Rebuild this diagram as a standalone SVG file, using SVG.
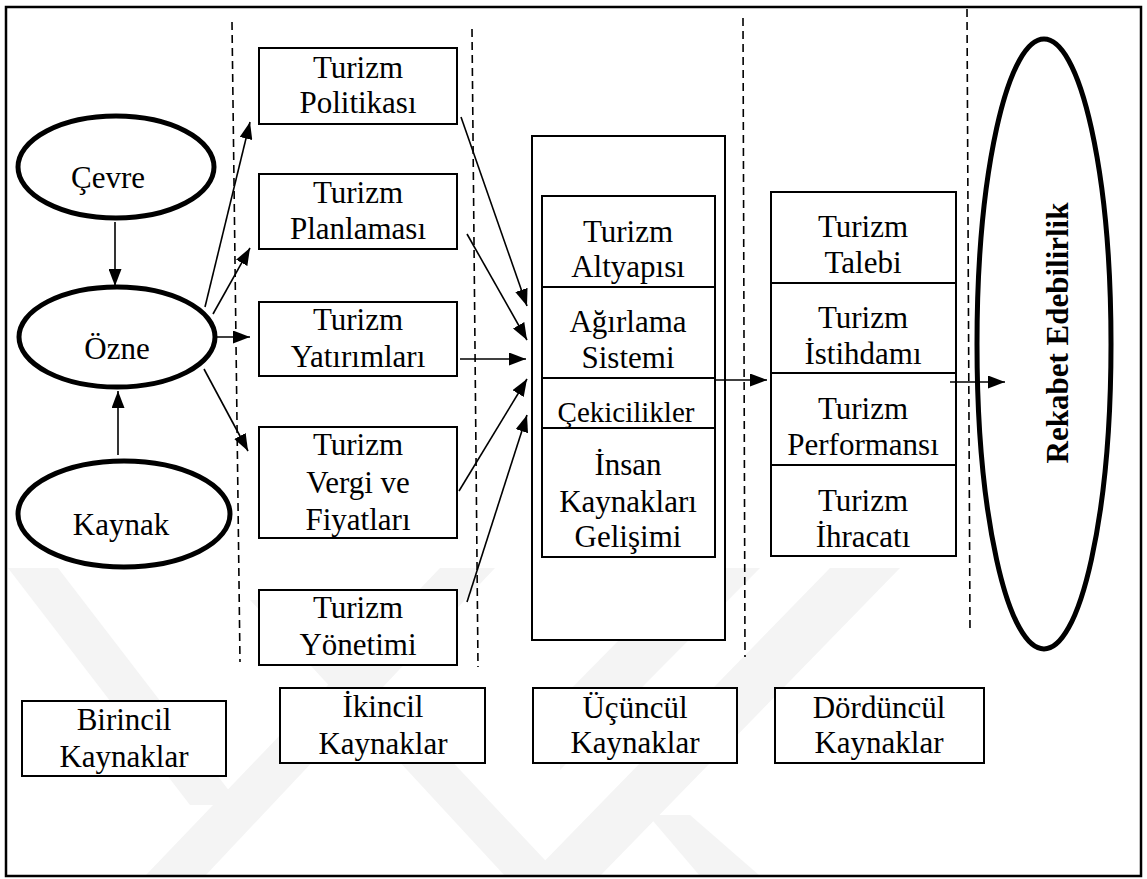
<svg xmlns="http://www.w3.org/2000/svg" width="1147" height="879" viewBox="0 0 1147 879">
  <style>
    text { font-family: 'Liberation Serif', 'DejaVu Serif', serif; }
    .lbl { font-size: 31px; fill: #000; text-anchor: middle; }
    .bold { font-weight: bold; }
    .box { fill: #fff; stroke: #000; stroke-width: 2; }
    .oval { fill: #fff; stroke: #000; stroke-width: 5; }
    .sep { stroke: #000; stroke-width: 1.6; stroke-dasharray: 8 5; fill: none; }
    .link { stroke: #000; stroke-width: 1.6; fill: none; marker-end: url(#head); }
    .wm { fill: #f4f4f4; }
  </style>
  <defs>
    <marker id="head" markerUnits="userSpaceOnUse" markerWidth="17" markerHeight="13" refX="17" refY="6.5" orient="auto">
      <path d="M0,0 L17,6.5 L0,13 z" fill="#000"/>
    </marker>
  </defs>

  <rect x="0" y="0" width="1147" height="879" fill="#fff"/>

  <!-- faint background emblem -->
  <g id="emblem">
    <polygon class="wm" points="8,568 58,568 240,805 190,805"/>
    <polygon class="wm" points="440,568 495,568 205,876 145,876"/>
    <polygon class="wm" points="250,600 300,600 560,876 505,876"/>
    <polygon class="wm" points="690,568 760,568 560,770 560,700"/>
    <polygon class="wm" points="830,568 900,568 600,876 530,876"/>
    <polygon class="wm" points="648,815 690,815 760,876 700,876"/>
  </g>

  <!-- outer frame -->
  <rect x="6" y="7" width="1135" height="869" fill="none" stroke="#000" stroke-width="2.5"/>

  <!-- column separators -->
  <g id="separators">
    <line class="sep" x1="232" y1="22" x2="240" y2="662"/>
    <line class="sep" x1="472" y1="29" x2="478" y2="667"/>
    <line class="sep" x1="743" y1="18" x2="745" y2="657"/>
    <line class="sep" x1="967" y1="9" x2="970" y2="630"/>
  </g>

  <g font-family="'Liberation Serif', 'DejaVu Serif', serif">
  <!-- primary sources -->
  <g id="cevre">
    <ellipse class="oval" cx="116" cy="167" rx="98" ry="51"/>
    <text class="lbl" x="108" y="188">Çevre</text>
  </g>
  <g id="ozne">
    <ellipse class="oval" cx="117" cy="337" rx="98" ry="50"/>
    <text class="lbl" x="117" y="359">Özne</text>
  </g>
  <g id="kaynak">
    <ellipse class="oval" cx="124" cy="514" rx="106" ry="53"/>
    <text class="lbl" x="121" y="535">Kaynak</text>
  </g>

  <!-- secondary sources -->
  <g id="politika">
    <rect class="box" x="259" y="48" width="198" height="76"/>
    <text class="lbl" x="358" y="78">Turizm</text>
    <text class="lbl" x="358" y="113">Politikası</text>
  </g>
  <g id="planlama">
    <rect class="box" x="259" y="174" width="198" height="75"/>
    <text class="lbl" x="358" y="203">Turizm</text>
    <text class="lbl" x="358" y="239">Planlaması</text>
  </g>
  <g id="yatirim">
    <rect class="box" x="259" y="302" width="198" height="74"/>
    <text class="lbl" x="358" y="330">Turizm</text>
    <text class="lbl" x="358" y="367">Yatırımları</text>
  </g>
  <g id="vergi">
    <rect class="box" x="259" y="427" width="198" height="111"/>
    <text class="lbl" x="358" y="455">Turizm</text>
    <text class="lbl" x="358" y="493">Vergi ve</text>
    <text class="lbl" x="358" y="530">Fiyatları</text>
  </g>
  <g id="yonetim">
    <rect class="box" x="259" y="590" width="198" height="75"/>
    <text class="lbl" x="358" y="618">Turizm</text>
    <text class="lbl" x="358" y="655">Yönetimi</text>
  </g>

  <!-- tertiary sources -->
  <g id="ucuncul">
    <rect class="box" x="532" y="136" width="193" height="504"/>
    <rect class="box" x="542" y="196" width="173" height="361"/>
    <line x1="542" y1="287" x2="715" y2="287" stroke="#000" stroke-width="2"/>
    <line x1="542" y1="378" x2="715" y2="378" stroke="#000" stroke-width="2"/>
    <line x1="542" y1="428" x2="715" y2="428" stroke="#000" stroke-width="2"/>
    <text class="lbl" x="628" y="242">Turizm</text>
    <text class="lbl" x="628" y="277">Altyapısı</text>
    <text class="lbl" x="628" y="332">Ağırlama</text>
    <text class="lbl" x="628" y="368">Sistemi</text>
    <text class="lbl" x="626" y="422" style="font-size:29px">Çekicilikler</text>
    <text class="lbl" x="628" y="475">İnsan</text>
    <text class="lbl" x="628" y="512">Kaynakları</text>
    <text class="lbl" x="628" y="547">Gelişimi</text>
  </g>

  <!-- quaternary sources -->
  <g id="dorduncul">
    <rect class="box" x="771" y="192" width="185" height="364"/>
    <line x1="771" y1="283" x2="956" y2="283" stroke="#000" stroke-width="2"/>
    <line x1="771" y1="373" x2="956" y2="373" stroke="#000" stroke-width="2"/>
    <line x1="771" y1="465" x2="956" y2="465" stroke="#000" stroke-width="2"/>
    <text class="lbl" x="863" y="237">Turizm</text>
    <text class="lbl" x="863" y="273">Talebi</text>
    <text class="lbl" x="863" y="328">Turizm</text>
    <text class="lbl" x="863" y="364">İstihdamı</text>
    <text class="lbl" x="863" y="419">Turizm</text>
    <text class="lbl" x="863" y="455">Performansı</text>
    <text class="lbl" x="863" y="511">Turizm</text>
    <text class="lbl" x="863" y="547">İhracatı</text>
  </g>

  <!-- outcome -->
  <g id="rekabet">
    <ellipse class="oval" cx="1044" cy="344" rx="67" ry="305" stroke-width="4.5"/>
    <text class="lbl bold" transform="translate(1068,333) rotate(-90)" x="0" y="0">Rekabet Edebilirlik</text>
  </g>

  <!-- level captions -->
  <g id="birincil">
    <rect class="box" x="22" y="701" width="204" height="75"/>
    <text class="lbl" x="124" y="730">Birincil</text>
    <text class="lbl" x="124" y="767">Kaynaklar</text>
  </g>
  <g id="ikincil">
    <rect class="box" x="280" y="688" width="205" height="75"/>
    <text class="lbl" x="383" y="717">İkincil</text>
    <text class="lbl" x="383" y="754">Kaynaklar</text>
  </g>
  <g id="ucuncul-label">
    <rect class="box" x="533" y="688" width="204" height="75"/>
    <text class="lbl" x="635" y="718">Üçüncül</text>
    <text class="lbl" x="635" y="753">Kaynaklar</text>
  </g>
  <g id="dorduncul-label">
    <rect class="box" x="775" y="688" width="209" height="75"/>
    <text class="lbl" x="879" y="718">Dördüncül</text>
    <text class="lbl" x="879" y="753">Kaynaklar</text>
  </g>
  </g>

  <!-- connectors -->
  <g id="connectors">
    <line class="link" x1="115" y1="222" x2="115" y2="286"/>
    <line class="link" x1="118" y1="455" x2="118" y2="391"/>
    <line class="link" x1="205" y1="307" x2="250" y2="122"/>
    <line class="link" x1="213" y1="314" x2="250" y2="248"/>
    <line class="link" x1="217" y1="337" x2="250" y2="337"/>
    <line class="link" x1="204" y1="369" x2="248" y2="451"/>
    <line class="link" x1="461" y1="117" x2="527" y2="306"/>
    <line class="link" x1="467" y1="234" x2="527" y2="340"/>
    <line class="link" x1="460" y1="359" x2="526" y2="359"/>
    <line class="link" x1="459" y1="491" x2="527" y2="379"/>
    <line class="link" x1="467" y1="602" x2="527" y2="415"/>
    <line class="link" x1="715" y1="380" x2="767" y2="380"/>
    <line class="link" x1="950" y1="382" x2="1005" y2="382"/>
  </g>
</svg>
